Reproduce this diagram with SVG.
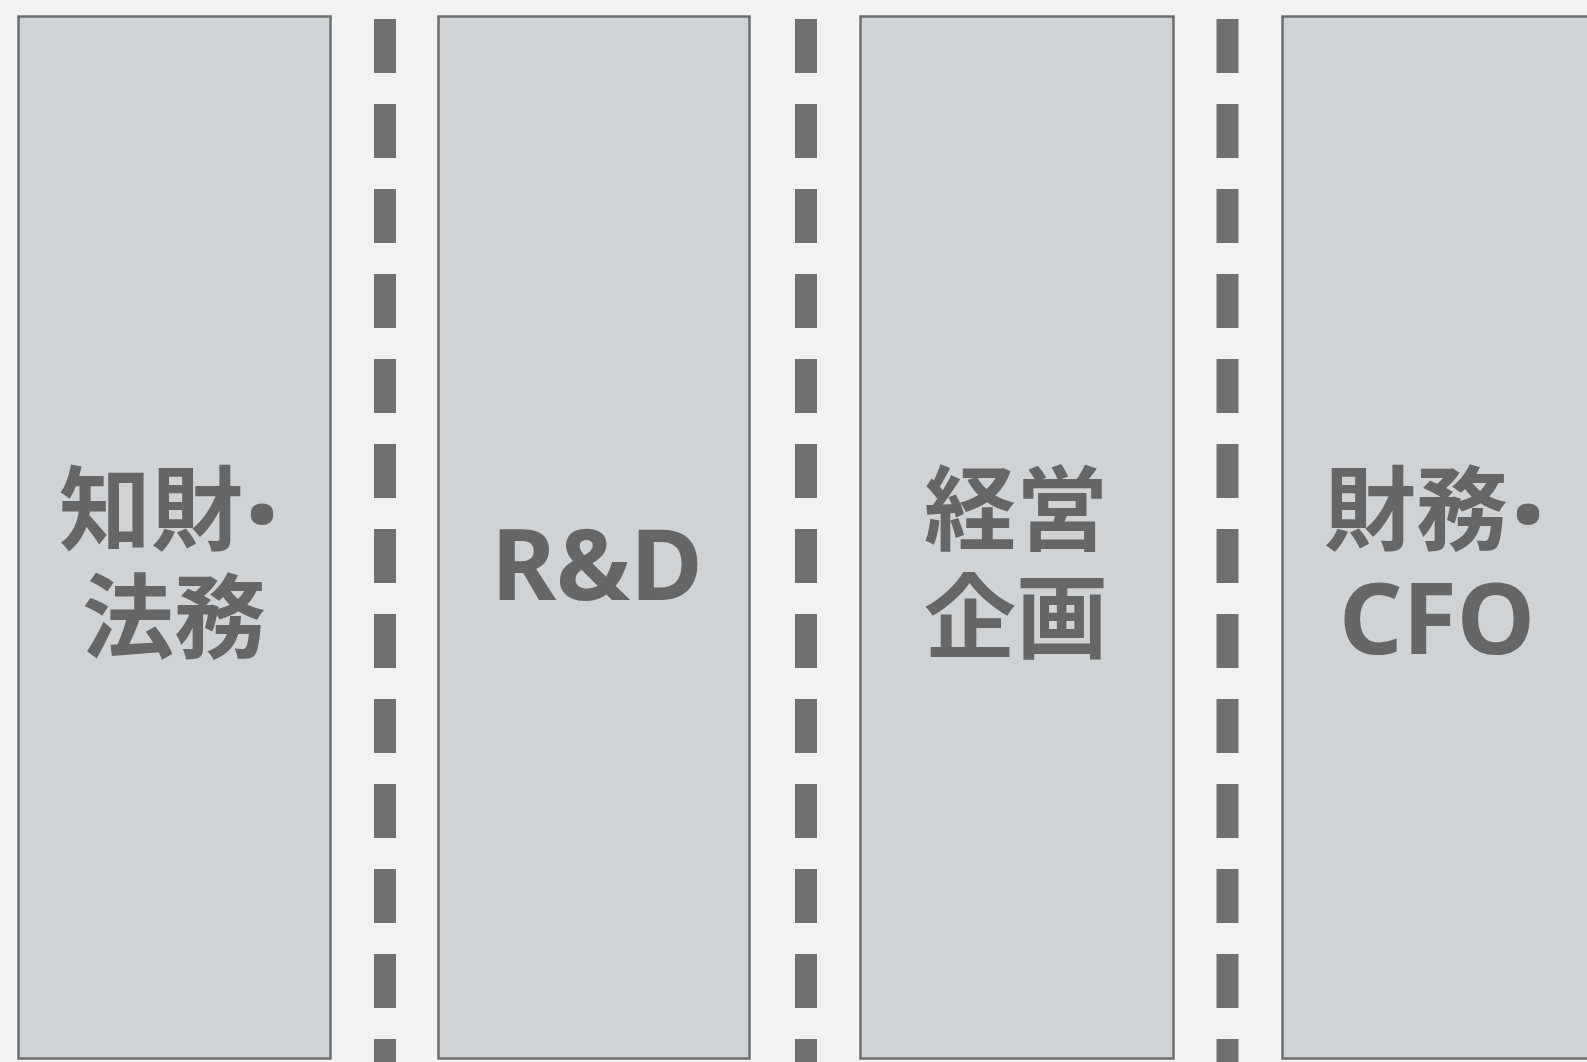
<svg xmlns="http://www.w3.org/2000/svg" width="1587" height="1062" viewBox="0 0 1587 1062">
<style>
.bg{fill:#f2f2f2}
.box{fill:#cfd3d6;stroke:#6e6e6e;stroke-width:2.5}
.lbl{font-family:"Noto Sans CJK JP","Noto Sans",sans-serif;font-weight:700;font-size:92px;fill:#666666;text-anchor:middle}
.lat{font-family:"Noto Sans","Noto Sans CJK JP",sans-serif;font-weight:700;font-size:99px;fill:#666666;text-anchor:middle}
.dot{font-family:"Noto Sans",sans-serif;font-size:130px}
.div{stroke:#707070;stroke-width:22;stroke-dasharray:54 31;fill:none}
</style>
<rect class="bg" x="0" y="0" width="1587" height="1062"/>
<g id="connectors">
<line class="div" x1="385" y1="19" x2="385" y2="1062"/>
<line class="div" x1="806" y1="19" x2="806" y2="1062"/>
<line class="div" x1="1227.5" y1="19" x2="1227.5" y2="1062"/>
</g>
<g id="node-ip-legal">
<rect class="box" x="18.5" y="16.5" width="312" height="1042"/>
<text class="lbl" x="151" y="543">知財<tspan class="dot" x="262" y="560">·</tspan></text>
<text class="lbl" x="174" y="651">法務</text>
</g>
<g id="node-rd">
<rect class="box" x="438.5" y="16.5" width="311" height="1042"/>
<text class="lat" x="597" y="600">R&amp;D</text>
</g>
<g id="node-corp-planning">
<rect class="box" x="860.5" y="16.5" width="313" height="1042"/>
<text class="lbl" x="1016" y="543">経営</text>
<text class="lbl" x="1016" y="651">企画</text>
</g>
<g id="node-finance-cfo">
<rect class="box" x="1282.5" y="16.5" width="314" height="1042"/>
<text class="lbl" x="1416" y="543">財務<tspan class="dot" x="1528" y="560">·</tspan></text>
<text class="lat" x="1437" y="654">CFO</text>
</g>
</svg>
